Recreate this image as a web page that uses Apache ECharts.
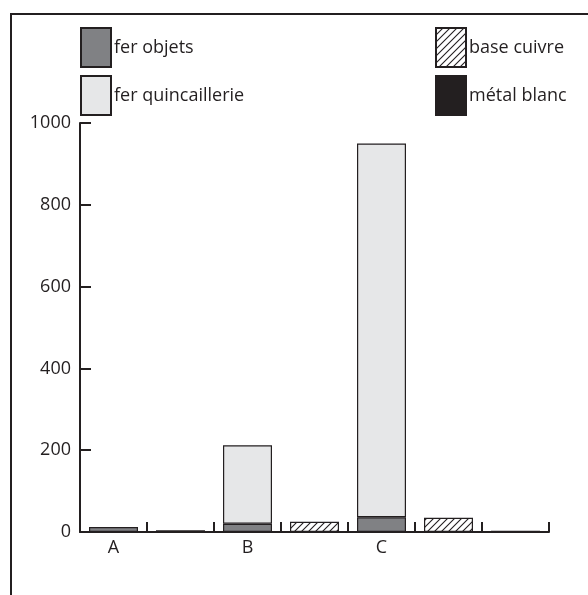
<!DOCTYPE html>
<html>
<head>
<meta charset="utf-8">
<script src="https://cdn.jsdelivr.net/npm/echarts@6/dist/echarts.min.js"></script>
<style>html,body{margin:0;padding:0;background:#fff}#c{width:588px;height:595px}</style>
</head>
<body>
<div id="c"></div>
<script>
var categories = ['A', '', 'B', '', 'C', '', ''];
var ferObjets = [12, null, 20, null, 36, null, null];
var ferQuincaillerie = [null, null, 192, null, 914, null, null];
var baseCuivre = [null, null, null, 25, null, 35, null];
var metalBlanc = [null, 4, null, null, null, null, 3];
var yTicks = { min: 0, max: 1000, interval: 200 };

var ink = '#231f20';
var font = 'Open Sans';
var fs = 18;

function hatch() {
  var c = document.createElement('canvas');
  c.width = 7; c.height = 7;
  var g = c.getContext('2d');
  g.fillStyle = '#fff'; g.fillRect(0, 0, 7, 7);
  g.strokeStyle = ink; g.lineWidth = 1.1;
  g.beginPath();
  g.moveTo(-1, 8); g.lineTo(8, -1);
  g.moveTo(-1, 1); g.lineTo(1, -1);
  g.moveTo(6, 8); g.lineTo(8, 6);
  g.stroke();
  return c;
}

var chart = echarts.init(document.getElementById('c'), null, { renderer: 'canvas' });
var common = { type: 'bar', stack: 'total', barWidth: 49 };
var border = { borderColor: ink, borderWidth: 1.2 };
var legendText = { fontSize: fs, color: ink, fontFamily: font, padding: [0, 0, 0, -2] };
chart.setOption({
  animation: false,
  grid: { left: 80, right: 39, top: 123, bottom: 63 },
  legend: [
    { data: ['fer objets', 'fer quincaillerie'], orient: 'vertical', left: 75, top: 22, itemWidth: 30, itemHeight: 39, itemGap: 7, icon: 'rect', textStyle: legendText, selectedMode: false },
    { data: ['base cuivre', 'métal blanc'], orient: 'vertical', left: 430, top: 22, itemWidth: 30, itemHeight: 39, itemGap: 7, icon: 'rect', textStyle: legendText, selectedMode: false }
  ],
  xAxis: {
    type: 'category', data: categories,
    axisLine: { lineStyle: { color: ink, width: 2 } },
    axisTick: { show: true, inside: true, length: 10, interval: 0, alignWithLabel: false, lineStyle: { color: ink, width: 2 } },
    axisLabel: { interval: 0, fontSize: fs, color: ink, fontFamily: font, margin: 7 }
  },
  yAxis: {
    type: 'value', min: yTicks.min, max: yTicks.max, interval: yTicks.interval,
    axisLine: { show: true, lineStyle: { color: ink, width: 2 } },
    axisTick: { show: true, inside: true, length: 11, lineStyle: { color: ink, width: 2 } },
    axisLabel: { fontSize: fs, color: ink, fontFamily: font, margin: 9, formatter: function (v) { return String(v); } },
    splitLine: { show: false }
  },
  series: [
    Object.assign({ name: 'fer objets', data: ferObjets, itemStyle: Object.assign({ color: '#808184' }, border) }, common),
    Object.assign({ name: 'fer quincaillerie', data: ferQuincaillerie, itemStyle: Object.assign({ color: '#e6e7e8' }, border) }, common),
    Object.assign({ name: 'base cuivre', data: baseCuivre, itemStyle: Object.assign({ color: { image: hatch(), repeat: 'repeat' } }, border) }, common),
    Object.assign({ name: 'métal blanc', data: metalBlanc, itemStyle: Object.assign({ color: ink }, border) }, common)
  ],
  graphic: [
    { type: 'line', shape: { x1: 10, y1: 14, x2: 588, y2: 14 }, style: { stroke: ink, lineWidth: 2 } },
    { type: 'line', shape: { x1: 11, y1: 14, x2: 11, y2: 595 }, style: { stroke: ink, lineWidth: 2 } }
  ]
});
</script>
</body>
</html>
